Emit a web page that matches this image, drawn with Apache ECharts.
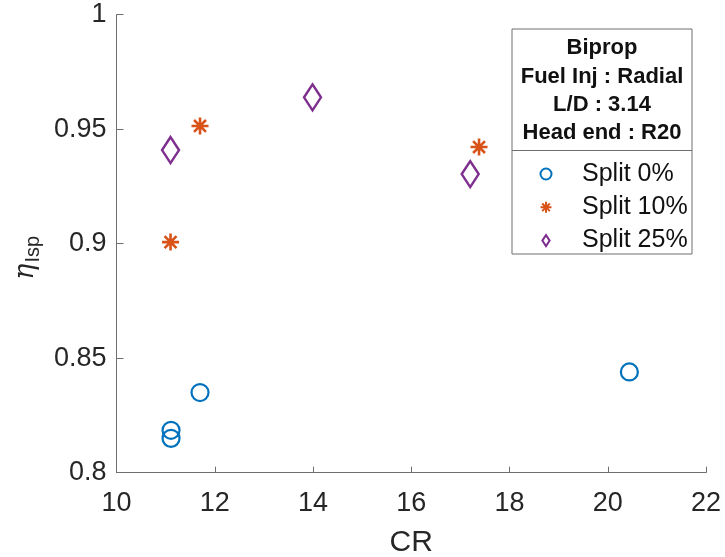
<!DOCTYPE html>
<html>
<head>
<meta charset="utf-8">
<script src="https://cdn.jsdelivr.net/npm/echarts@6/dist/echarts.min.js"></script>
<style>
  html, body { margin: 0; padding: 0; background: #fff; }
  #chart { width: 725px; height: 557px; }
</style>
</head>
<body>
<div id="chart"></div>
<script>
// Contraction ratio vs. specific impulse efficiency, per fuel split
const cr0   = [20.44, 11.70, 11.11, 11.11];
const eta0  = [0.844, 0.835, 0.8185, 0.815];
const cr10  = [11.70, 11.10, 17.38];
const eta10 = [0.9514, 0.9007, 0.9422];
const cr25  = [11.10, 13.99, 17.20];
const eta25 = [0.9409, 0.9639, 0.9304];

const seriesNames = ['Split 0%', 'Split 10%', 'Split 25%'];
const infoLines = ['Biprop', 'Fuel Inj : Radial', 'L/D : 3.14', 'Head end : R20'];
const xTicks = { min: 10, max: 22, step: 2 };
const yTicks = { min: 0.8, max: 1, step: 0.05 };

const pair = (xs, ys) => xs.map((x, i) => [x, ys[i]]);

// eight-armed asterisk marker and an outline diamond
const asterisk = 'path://M10,0 L10,20 M0,10 L20,10 M3,3 L17,17 M3,17 L17,3';
const diamond = 'path://M10,0 L20,15 L10,30 L0,15 Z';

const FONT = '"Liberation Sans", Arial, Helvetica, sans-serif';
const TXT = '#262626';
const AX = '#6e6e6e';
const COLORS = ['#0072BD', '#D95319', '#7E2F8E'];
const ICONS = ['circle', asterisk, diamond];

const chart = echarts.init(document.getElementById('chart'), null, { renderer: 'canvas' });

const boxL = 512, boxT = 29, boxR = 692, boxB = 254, divY = 150.5;
const boxCx = (boxL + boxR) / 2;

chart.setOption({
  animation: false,
  backgroundColor: '#ffffff',
  textStyle: { fontFamily: FONT },
  grid: { left: 116.5, right: 19, top: 14.7, bottom: 84.3, containLabel: false, outerBoundsMode: 'none' },
  xAxis: {
    type: 'value',
    min: xTicks.min, max: xTicks.max, interval: xTicks.step,
    name: 'CR',
    nameLocation: 'middle',
    nameGap: 55,
    nameTextStyle: { fontSize: 30, color: TXT, fontFamily: FONT },
    axisLine: { show: true, onZero: false, lineStyle: { color: AX, width: 1 } },
    axisTick: { show: true, inside: true, length: 6, lineStyle: { color: AX } },
    axisLabel: { fontSize: 27, color: TXT, margin: 17, fontFamily: FONT },
    splitLine: { show: false }
  },
  yAxis: {
    type: 'value',
    min: yTicks.min, max: yTicks.max, interval: yTicks.step,
    name: '{a|η}{b|Isp}{c| }',
    nameLocation: 'middle',
    nameGap: 72,
    nameRotate: 90,
    nameTextStyle: {
      color: TXT,
      rich: {
        a: { fontSize: 27, fontStyle: 'italic', fontFamily: '"DejaVu Serif", serif', color: TXT, lineHeight: 34 },
        b: { fontSize: 20, fontFamily: FONT, color: TXT, verticalAlign: 'bottom', lineHeight: 34, padding: [14, 0, 0, 1] },
        c: { fontSize: 10, width: 28, lineHeight: 34 }
      }
    },
    axisLine: { show: true, onZero: false, lineStyle: { color: AX, width: 1 } },
    axisTick: { show: true, inside: true, length: 7, lineStyle: { color: AX } },
    axisLabel: { fontSize: 27, color: TXT, margin: 10, fontFamily: FONT },
    splitLine: { show: false }
  },
  legend: {
    data: seriesNames,
    orient: 'vertical',
    left: 539.5,
    top: 159,
    z: 10,
    itemWidth: 62,
    itemHeight: 11,
    itemGap: 3.3,
    padding: 0,
    textStyle: { fontSize: 25, color: '#111', fontFamily: FONT, lineHeight: 30 },
    selectedMode: false
  },
  series: [
    {
      name: seriesNames[0], type: 'scatter', data: pair(cr0, eta0),
      symbol: ICONS[0], symbolSize: 17,
      itemStyle: { color: 'rgba(0,0,0,0)', borderColor: COLORS[0], borderWidth: 2.2, opacity: 1 },
      emphasis: { disabled: true }
    },
    {
      name: seriesNames[1], type: 'scatter', data: pair(cr10, eta10),
      symbol: ICONS[1], symbolSize: 17,
      itemStyle: { color: 'rgba(0,0,0,0)', borderColor: COLORS[1], borderWidth: 2.6, opacity: 1 },
      emphasis: { disabled: true }
    },
    {
      name: seriesNames[2], type: 'scatter', data: pair(cr25, eta25),
      symbol: ICONS[2], symbolSize: [17, 26],
      itemStyle: { color: 'rgba(0,0,0,0)', borderColor: COLORS[2], borderWidth: 2.5, opacity: 1 },
      emphasis: { disabled: true }
    }
  ],
  graphic: [
    {
      type: 'rect', z: 3, silent: true,
      shape: { x: boxL, y: boxT, width: boxR - boxL, height: boxB - boxT },
      style: { fill: '#ffffff', stroke: '#6e6e6e', lineWidth: 1 }
    },
    {
      type: 'line', z: 4, silent: true,
      shape: { x1: boxL, y1: divY, x2: boxR, y2: divY },
      style: { stroke: '#6e6e6e', lineWidth: 1 }
    }
  ].concat(infoLines.map((t, i) => ({
    type: 'text', z: 4, silent: true,
    x: boxCx, y: 48.3 + i * 28.3,
    style: {
      text: t, fontSize: 22, fontWeight: 'bold', fontFamily: FONT,
      fill: '#111', align: 'center', verticalAlign: 'middle'
    }
  })))
});
</script>
</body>
</html>
